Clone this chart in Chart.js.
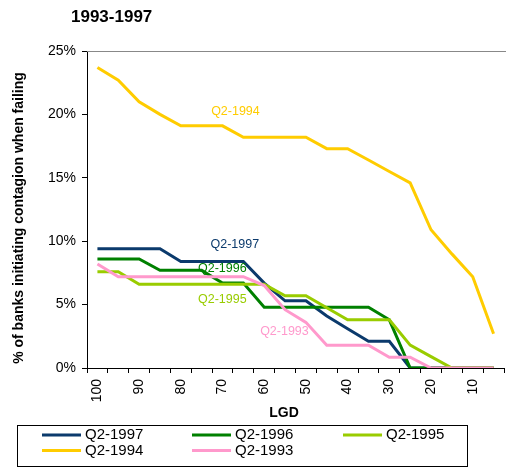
<!DOCTYPE html>
<html>
<head>
<meta charset="utf-8">
<script src="https://cdn.jsdelivr.net/npm/chart.js@4/dist/chart.umd.min.js"></script>
<style>
  html, body { margin: 0; padding: 0; background: #fff; }
  #wrap { width: 506px; height: 467px; }
</style>
</head>
<body>
<div id="wrap"><canvas id="myChart" width="506" height="467"></canvas></div>
<script>
// LGD categories, read left to right
var lgd = ["100", "95", "90", "85", "80", "75", "70", "65", "60", "55",
           "50", "45", "40", "35", "30", "25", "20", "15", "10", "5"];

// % of banks initiating contagion when failing
var q1997 = [9.4, 9.4, 9.4, 9.4, 8.4, 8.4, 8.4, 8.4, 6.7, 5.3, 5.3, 4.1, 3.1, 2.1, 2.1, 0, 0, 0, 0, 0];
var q1996 = [8.6, 8.6, 8.6, 7.7, 7.7, 7.7, 6.7, 6.7, 4.8, 4.8, 4.8, 4.8, 4.8, 4.8, 3.8, 0, 0, 0, 0, 0];
var q1995 = [7.6, 7.6, 6.6, 6.6, 6.6, 6.6, 6.6, 6.6, 6.6, 5.7, 5.7, 4.75, 3.8, 3.8, 3.8, 1.8, 0.9, 0, 0, 0];
var q1994 = [23.7, 22.7, 21.0, 20.0, 19.1, 19.1, 19.1, 18.2, 18.2, 18.2, 18.2, 17.3, 17.3, 16.4, 15.5, 14.6, 10.9, 9.0, 7.2, 2.7];
var q1993 = [8.2, 7.2, 7.2, 7.2, 7.2, 7.2, 7.2, 7.2, 6.5, 4.6, 3.6, 1.8, 1.8, 1.8, 0.85, 0.85, 0, 0, 0, 0];

var seriesNames = ["Q2-1997", "Q2-1996", "Q2-1995", "Q2-1994", "Q2-1993"];
var yTicks = [0, 5, 10, 15, 20, 25];

var colors = ["#0b3a6c", "#008000", "#99cc00", "#ffcc00", "#ff99cc"];
var FONT = "'Liberation Sans', Arial, sans-serif";

// where the in-plot series names sit (category index, % value)
var tags = [
  { text: "Q2-1994", idx: 6.62, val: 20.2, color: colors[3] },
  { text: "Q2-1997", idx: 6.59, val: 9.76, color: colors[0] },
  { text: "Q2-1996", idx: 5.99, val: 7.86, color: colors[1] },
  { text: "Q2-1995", idx: 5.99, val: 5.36, color: colors[2] },
  { text: "Q2-1993", idx: 8.97, val: 2.86, color: colors[4] }
];

var extras = {
  id: "extras",
  beforeDraw: function (chart) {
    var c = chart.ctx;
    c.save();
    c.fillStyle = "#fff";
    c.fillRect(0, 0, chart.width, chart.height);
    c.restore();
  },
  afterDraw: function (chart) {
    var c = chart.ctx;
    var area = chart.chartArea;
    var xs = chart.scales.x, ys = chart.scales.y;
    c.save();

    // top frame line
    c.strokeStyle = "#888";
    c.lineWidth = 1;
    c.beginPath();
    c.moveTo(area.left, Math.round(area.top) + 0.5);
    c.lineTo(chart.width, Math.round(area.top) + 0.5);
    c.stroke();

    // title
    c.fillStyle = "#000";
    c.font = "bold 17px " + FONT;
    c.textAlign = "left";
    c.textBaseline = "middle";
    c.fillText("1993-1997", 71, 17);

    // y title
    c.save();
    c.translate(19, 218);
    c.rotate(-Math.PI / 2);
    c.font = "bold 14px " + FONT;
    c.textAlign = "center";
    c.fillText("% of banks initiating contagion when failing", 0, 0);
    c.restore();

    // x title
    c.font = "bold 14px " + FONT;
    c.textAlign = "center";
    c.fillText("LGD", 284, 413);

    // series tags inside the plot
    var x0 = xs.getPixelForValue(0), x1 = xs.getPixelForValue(1);
    c.font = "12.5px " + FONT;
    tags.forEach(function (t) {
      c.fillStyle = t.color;
      c.fillText(t.text, x0 + t.idx * (x1 - x0), ys.getPixelForValue(t.val));
    });

    // legend box
    c.strokeStyle = "#000";
    c.lineWidth = 1;
    c.strokeRect(17.5, 425.5, 450, 41);
    var cols = [42, 192, 343];
    var rows = [435, 450.5];
    c.font = "15px " + FONT;
    c.textAlign = "left";
    chart.data.datasets.forEach(function (ds, i) {
      var lx = cols[i % 3], ly = rows[Math.floor(i / 3)];
      c.strokeStyle = ds.borderColor;
      c.lineWidth = 3;
      c.beginPath();
      c.moveTo(lx, ly);
      c.lineTo(lx + 39, ly);
      c.stroke();
      c.fillStyle = "#000";
      c.fillText(ds.label, lx + 43, ly);
    });
    c.restore();
  }
};

var allSeries = [q1997, q1996, q1995, q1994, q1993];
var datasets = allSeries.map(function (vals, i) {
  return {
    label: seriesNames[i],
    data: vals,
    borderColor: colors[i],
    backgroundColor: colors[i],
    borderWidth: 3,
    pointRadius: 0,
    tension: 0,
    fill: false,
    order: allSeries.length - i
  };
});

new Chart(document.getElementById("myChart"), {
  type: "line",
  data: { labels: lgd, datasets: datasets },
  options: {
    responsive: false,
    animation: false,
    events: [],
    layout: { padding: { top: 51, right: 2, left: 0, bottom: 0 } },
    plugins: { legend: { display: false }, title: { display: false }, tooltip: { enabled: false } },
    scales: {
      x: {
        type: "category",
        offset: true,
        afterFit: function (s) { s.height = 99; s.paddingLeft = 0; s.paddingRight = 0; },
        border: { color: "#000", width: 1 },
        grid: { drawOnChartArea: false, drawTicks: true, tickLength: 5, color: "#000", offset: true },
        ticks: {
          autoSkip: false,
          minRotation: 90,
          maxRotation: 90,
          padding: 6,
          color: "#000",
          font: { family: FONT, size: 14 },
          callback: function (v, i) { return i % 2 === 0 ? lgd[i] : ""; }
        }
      },
      y: {
        min: 0,
        max: 25,
        afterFit: function (s) { s.width = 87; s.paddingTop = 0; s.paddingBottom = 0; },
        afterBuildTicks: function (s) { s.ticks = yTicks.map(function (v) { return { value: v }; }); },
        border: { color: "#000", width: 1 },
        grid: { drawOnChartArea: false, drawTicks: true, tickLength: 5, color: "#000" },
        ticks: {
          padding: 6,
          color: "#000",
          font: { family: FONT, size: 14 },
          callback: function (v) { return v + "%"; }
        }
      }
    }
  },
  plugins: [extras]
});
</script>
</body>
</html>
